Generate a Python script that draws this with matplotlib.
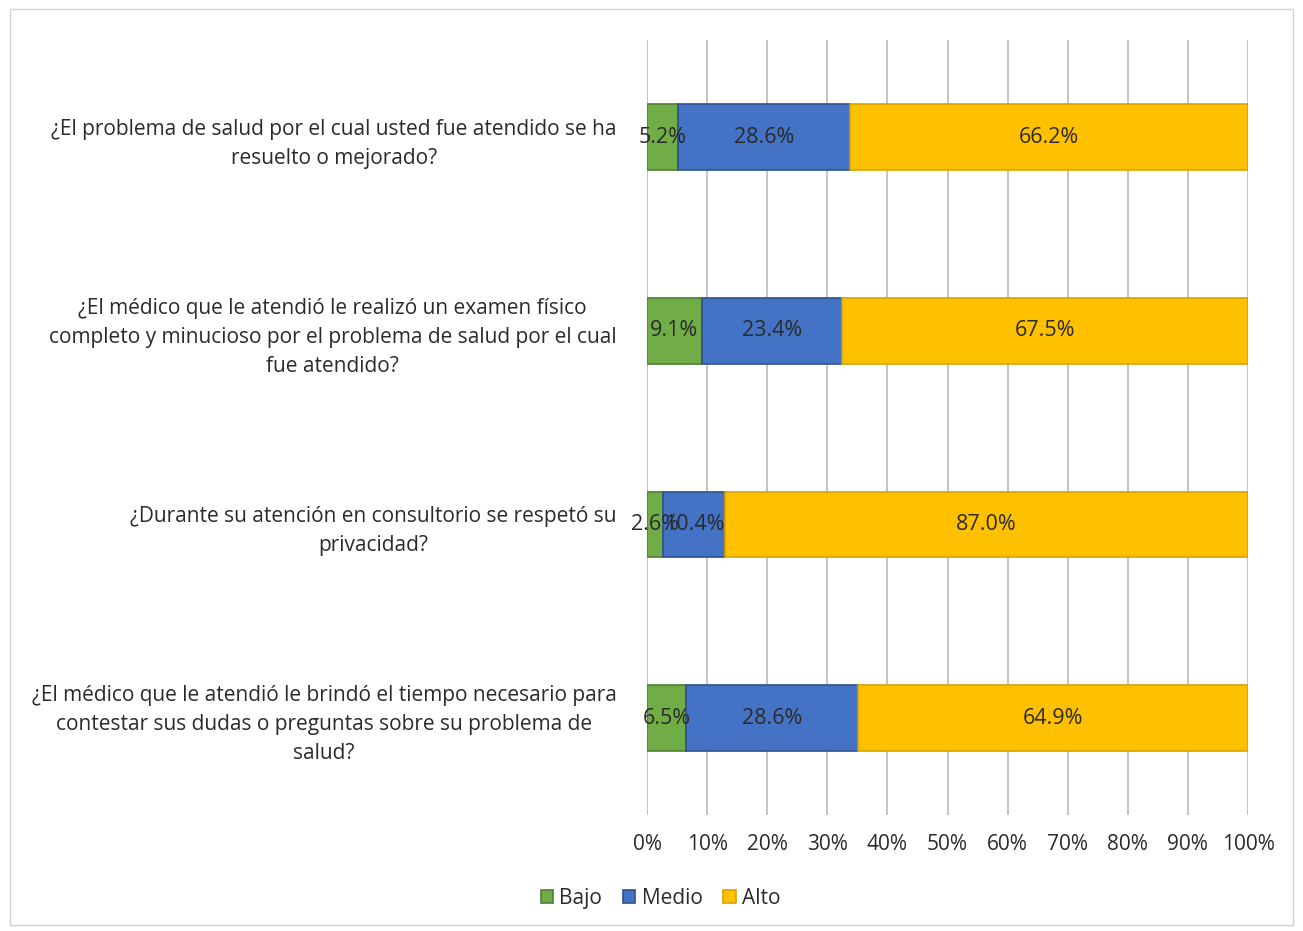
import numpy as np
import matplotlib.pyplot as plt
from matplotlib.patches import Rectangle

questions = [
    "¿El problema de salud por el cual usted fue atendido se ha\nresuelto o mejorado?",
    "¿El médico que le atendió le realizó un examen físico\ncompleto y minucioso por el problema de salud por el cual\nfue atendido?",
    "¿Durante su atención en consultorio se respetó su\nprivacidad?",
    "¿El médico que le atendió le brindó el tiempo necesario para\ncontestar sus dudas o preguntas sobre su problema de\nsalud?",
]
series_names = ["Bajo", "Medio", "Alto"]
bajo = [5.2, 9.1, 2.6, 6.5]
medio = [28.6, 23.4, 10.4, 28.6]
alto = [66.2, 67.5, 87.0, 64.9]

FILL = ["#70AD47", "#4472C4", "#FFC000"]
EDGE = ["#507E32", "#2F528F", "#D8A400"]
TEXT = "#2B2B2B"

plt.rcParams["font.family"] = ["Open Sans", "DejaVu Sans"]

fig = plt.figure(figsize=(13.03, 9.31), dpi=100)
fig.patches.append(Rectangle((0.008, 0.006), 0.984, 0.984, transform=fig.transFigure,
                             fill=False, edgecolor="#D0D0D0", linewidth=1.0))
ax = fig.add_axes([0.4966, 0.1246, 0.4612, 0.832])

y = np.arange(len(questions))
left = np.zeros(len(questions))
for vals, name, fc, ec in zip([bajo, medio, alto], series_names, FILL, EDGE):
    vals = np.array(vals)
    ax.barh(y, vals, left=left, height=0.34, color=fc, edgecolor=ec,
            linewidth=1.2, label=name, zorder=3)
    for yi, l, v in zip(y, left, vals):
        ax.text(l + v / 2, yi, f"{v:.1f}%", ha="center", va="center",
                fontsize=15.5, color=TEXT, zorder=4)
    left += vals

ax.set_xlim(0, 100)
ax.set_ylim(len(questions) - 0.5, -0.5)
ax.set_xticks(np.arange(0, 101, 10))
ax.set_xticklabels([f"{t}%" for t in range(0, 101, 10)])
ax.set_yticks(y)
ax.set_yticklabels(questions)
for t in ax.get_yticklabels():
    t.set_multialignment("center")
    t.set_linespacing(1.5)
ax.tick_params(axis="x", length=0, pad=14, labelsize=15, labelcolor=TEXT)
ax.tick_params(axis="y", length=0, pad=22, labelsize=15, labelcolor=TEXT)
ax.grid(axis="x", color="#BFBFBF", linewidth=1.3, zorder=0)
for s in ax.spines.values():
    s.set_visible(False)

fig.legend(loc="center", bbox_to_anchor=(0.507, 0.035), ncol=3, frameon=False,
           fontsize=15, handlelength=0.6, handleheight=0.6, handletextpad=0.3,
           columnspacing=1.0, labelcolor=TEXT)

fig.savefig("out.png", dpi=100, facecolor="white")
